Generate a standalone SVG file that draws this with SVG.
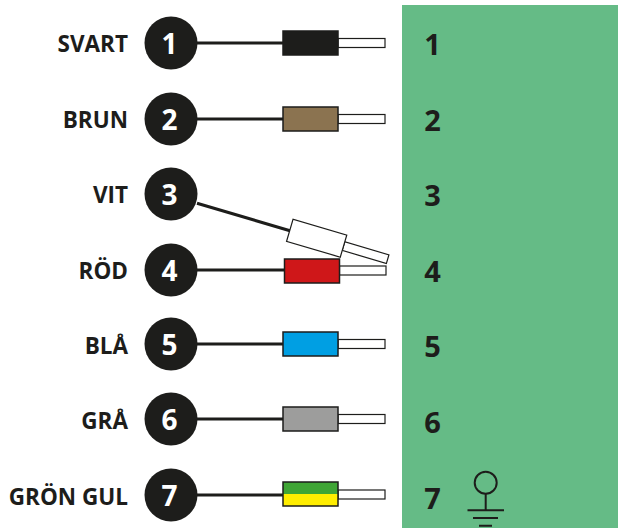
<svg xmlns="http://www.w3.org/2000/svg" width="618" height="528" viewBox="0 0 618 528">
<style>
text{font-family:"Open Sans","Noto Sans",sans-serif;font-weight:700;fill:#1d1d1b}
.l{font-size:22.500px;text-anchor:end}
.n{font-size:28px;text-anchor:middle;fill:#fff}
.p{font-size:29px;text-anchor:middle}
.c{fill:#1d1d1b}
.w{stroke:#1d1d1b;stroke-width:3;fill:none}
.b{stroke:#1d1d1b;stroke-width:1.5}
.t{fill:#fff;stroke:#1d1d1b;stroke-width:1.2}
.g{fill:none;stroke:#1d1d1b;stroke-width:2}
</style>
<rect id="panel" x="402" y="5" width="216" height="523" fill="#65bb86"/>
<g id="connectors">
<path class="w" d="M197 43H283M197 119H283M197 203.300L290 230.700M197 270H285M197 344H283M197 419H283M197 495H283"/>
</g>
<g id="node1"><text class="l" x="128" y="52">SVART</text><circle class="c" cx="171" cy="43" r="26.500"/><text class="n" x="169.500" y="54">1</text><rect class="t" x="338" y="38.500" width="47" height="9"/><rect class="b" x="283" y="31" width="55" height="24" fill="#1d1d1b"/><text class="p" x="432.500" y="55">1</text></g>
<g id="node2"><text class="l" x="128" y="128">BRUN</text><circle class="c" cx="171" cy="119" r="26.500"/><text class="n" x="169.500" y="130">2</text><rect class="t" x="338" y="114.500" width="47" height="9"/><rect class="b" x="283" y="107" width="55" height="24" fill="#8b7350"/><text class="p" x="432.500" y="131">2</text></g>
<g id="node3"><text class="l" x="128" y="203">VIT</text><circle class="c" cx="171" cy="194" r="26.500"/><text class="n" x="169.500" y="205">3</text><g transform="translate(289.800 230.300) rotate(16.400)"><rect class="t" x="56" y="-4.500" width="46" height="9"/><rect class="t" x="0" y="-11.500" width="56" height="23"/></g><text class="p" x="432.500" y="206">3</text></g>
<g id="node4"><text class="l" x="128" y="279">RÖD</text><circle class="c" cx="171" cy="270" r="26.500"/><text class="n" x="169.500" y="281">4</text><rect class="t" x="339.500" y="266" width="46.500" height="9"/><rect class="b" x="284.500" y="259" width="55" height="24" fill="#cf1719"/><text class="p" x="432.500" y="282">4</text></g>
<g id="node5"><text class="l" x="128" y="354">BLÅ</text><circle class="c" cx="171" cy="344" r="26.500"/><text class="n" x="169.500" y="355">5</text><rect class="t" x="338" y="339.500" width="47" height="9"/><rect class="b" x="283" y="332" width="55" height="24" fill="#009fe3"/><text class="p" x="432.500" y="357">5</text></g>
<g id="node6"><text class="l" x="128" y="429">GRÅ</text><circle class="c" cx="171" cy="419" r="26.500"/><text class="n" x="169.500" y="430">6</text><rect class="t" x="338" y="414.500" width="47" height="9"/><rect class="b" x="283" y="407" width="55" height="24" fill="#9d9d9c"/><text class="p" x="432.500" y="433">6</text></g>
<g id="node7"><text class="l" x="128" y="505">GRÖN GUL</text><circle class="c" cx="171" cy="495" r="26.500"/><text class="n" x="169.500" y="506">7</text><rect class="t" x="338" y="490" width="47" height="9"/><rect x="283" y="482" width="55" height="12" fill="#3fa535"/><rect x="283" y="494" width="55" height="12" fill="#ffed00"/><rect class="b" x="283" y="482" width="55" height="24" fill="none"/><text class="p" x="432.500" y="509">7</text></g>
<g id="ground"><circle class="g" cx="485.700" cy="482.700" r="11"/><path class="g" d="M485.700 494V510.300M467.500 510.300H504M473 518H498M479 525.700H492"/></g>
</svg>
